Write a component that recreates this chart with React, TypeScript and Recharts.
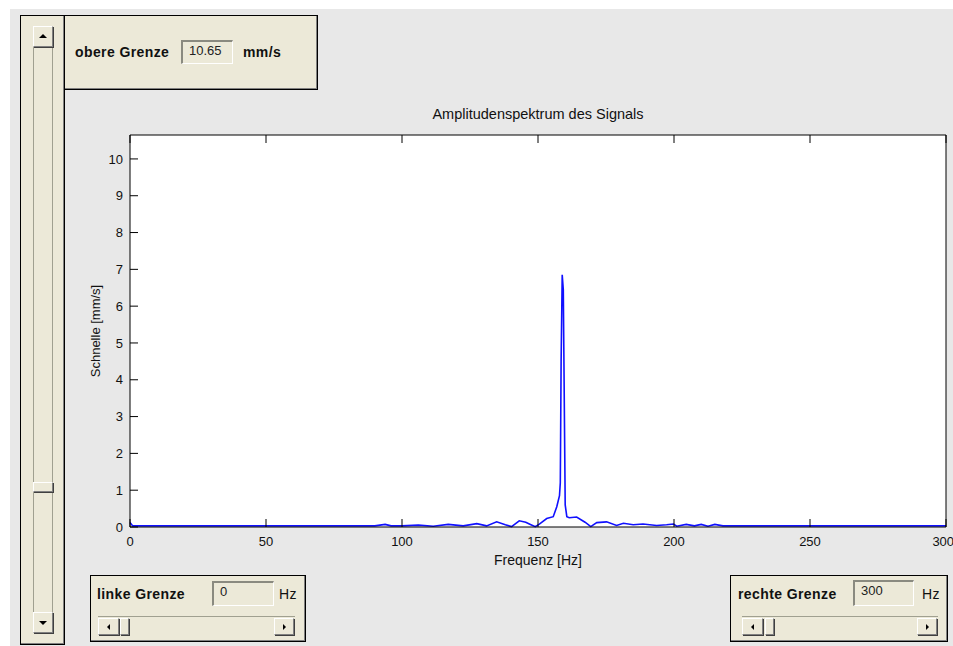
import React from 'react';
import { LineChart, Line, XAxis, YAxis, CartesianGrid } from 'recharts';

// spectrum (Hz / mm/s)
const FREQ = [
  0, 1, 20, 40, 60, 80, 90, 93.8, 96, 100, 106, 111.5, 117, 122.5, 127.5, 131.1,
  134.8, 138, 140.3, 143.1, 145.5, 147.2, 149, 150.5, 153.2, 155.6, 156.9, 157.9,
  158.2, 158.5, 158.9, 159.3, 159.6, 160.0, 160.6, 161.5, 164.2, 167.3, 169.4,
  171.6, 175.2, 178.9, 181.4, 185, 188.6, 193.6, 197.3, 199.8, 201, 204.5, 207.5,
  210, 212.5, 215, 218, 230, 260, 300,
];
const AMP = [
  0.12, 0.03, 0.03, 0.03, 0.03, 0.03, 0.03, 0.07, 0.03, 0.03, 0.05, 0.02, 0.07,
  0.03, 0.09, 0.03, 0.14, 0.06, 0.01, 0.17, 0.13, 0.07, 0.01, 0.08, 0.23, 0.28,
  0.55, 0.85, 1.2, 4.5, 6.85, 6.45, 3.95, 0.6, 0.28, 0.25, 0.27, 0.13, 0.01,
  0.12, 0.14, 0.04, 0.1, 0.06, 0.08, 0.04, 0.06, 0.08, 0.02, 0.07, 0.03, 0.07,
  0.02, 0.07, 0.03, 0.03, 0.03, 0.03,
];
const X_TICKS = [0, 50, 100, 150, 200, 250, 300];
const Y_TICKS = [0, 1, 2, 3, 4, 5, 6, 7, 8, 9, 10];
const Y_MAX = 10.65;

const data = FREQ.map((f, i) => ({ f, a: AMP[i] }));

const BEIGE = '#ece9d8';
const FONT = '"Liberation Sans", Arial, sans-serif';

const box = (l: number, t: number, w: number, h: number): React.CSSProperties => ({
  position: 'absolute',
  left: l,
  top: t,
  width: w,
  height: h,
  boxSizing: 'border-box',
});

function Panel({ l, t, w, h, children }: any) {
  return (
    <div style={{ ...box(l, t, w, h), background: BEIGE, border: '1px solid #000', boxShadow: 'inset -1px -1px 0 #808080' }}>
      {children}
    </div>
  );
}

function Edit({ l, t, w, h, value }: any) {
  return (
    <div
      style={{
        ...box(l, t, w, h),
        background: BEIGE,
        borderTop: '2px solid #8a8a80',
        borderLeft: '2px solid #8a8a80',
        borderRight: '1px solid #fff',
        borderBottom: '1px solid #fff',
        fontSize: 13,
        paddingLeft: 6,
        lineHeight: '17px',
        color: '#222',
      }}
    >
      {value}
    </div>
  );
}

function Btn({ l, t, w, h, dir }: any) {
  const s = 3;
  const tri: React.CSSProperties = { position: 'absolute', width: 0, height: 0, left: '50%', top: '50%' };
  if (dir === 'up') Object.assign(tri, { borderLeft: `${s + 1}px solid transparent`, borderRight: `${s + 1}px solid transparent`, borderBottom: `${s + 1}px solid #000`, marginLeft: -s - 1, marginTop: -3 });
  if (dir === 'down') Object.assign(tri, { borderLeft: `${s + 1}px solid transparent`, borderRight: `${s + 1}px solid transparent`, borderTop: `${s + 1}px solid #000`, marginLeft: -s - 1, marginTop: -2 });
  if (dir === 'left') Object.assign(tri, { borderTop: `${s}px solid transparent`, borderBottom: `${s}px solid transparent`, borderRight: `${s}px solid #000`, marginLeft: -2, marginTop: -s });
  if (dir === 'right') Object.assign(tri, { borderTop: `${s}px solid transparent`, borderBottom: `${s}px solid transparent`, borderLeft: `${s}px solid #000`, marginLeft: -1, marginTop: -s });
  return (
    <div style={{ ...box(l, t, w, h), background: BEIGE, borderTop: '1px solid #fff', borderLeft: '1px solid #fff', borderRight: '1px solid #808080', borderBottom: '1px solid #808080', boxShadow: '1px 1px 0 #404040' }}>
      {dir ? <div style={tri} /> : null}
    </div>
  );
}

function HSlider({ l, t, w, thumb }: any) {
  return (
    <div style={{ ...box(l, t, w, 19), background: BEIGE, borderTop: '1px solid #a0a090' }}>
      <Btn l={0} t={1} w={21} h={17} dir="left" />
      <Btn l={thumb} t={1} w={9} h={17} />
      <Btn l={w - 21} t={1} w={20} h={17} dir="right" />
    </div>
  );
}

const lbl: React.CSSProperties = { position: 'absolute', fontFamily: FONT, fontWeight: 'bold', fontSize: 14, color: '#111', letterSpacing: 0.4 };

export default function App() {
  return (
    <div style={{ position: 'fixed', left: 0, top: 0, width: 953, height: 646, overflow: 'hidden', background: '#fff', fontFamily: FONT }}>
      <div style={{ ...box(10, 9, 943, 637), background: '#e8e8e8' }} />
      <LineChart
        width={953}
        height={646}
        data={data}
        margin={{ top: 134, right: 6, bottom: 79, left: 80 }}
        style={{ position: 'absolute', left: 0, top: 0 }}
      >
        <CartesianGrid horizontal={false} vertical={false} fill="#fff" />
        <XAxis
          xAxisId="b"
          dataKey="f"
          type="number"
          domain={[0, 300]}
          ticks={X_TICKS}
          height={40}
          tickSize={-8}
          tickMargin={18}
          stroke="#000"
          tick={{ fill: '#111', fontSize: 13, fontFamily: FONT }}
          label={{ value: 'Frequenz [Hz]', position: 'insideBottom', offset: 2, fill: '#111', fontSize: 14, fontFamily: FONT }}
        />
        <XAxis
          xAxisId="t"
          orientation="top"
          dataKey="f"
          type="number"
          domain={[0, 300]}
          ticks={X_TICKS}
          height={1}
          tickSize={-8}
          stroke="#000"
          tickFormatter={() => ''}
        />
        <YAxis
          yAxisId="l"
          type="number"
          domain={[0, Y_MAX]}
          ticks={Y_TICKS}
          width={50}
          tickSize={-8}
          tickMargin={15}
          stroke="#000"
          tick={{ fill: '#111', fontSize: 13, fontFamily: FONT }}
          label={{ value: 'Schnelle [mm/s]', angle: -90, position: 'insideLeft', offset: 15, fill: '#111', fontSize: 13, fontFamily: FONT, style: { textAnchor: 'middle' } }}
        />
        <YAxis
          yAxisId="r"
          orientation="right"
          type="number"
          domain={[0, Y_MAX]}
          ticks={Y_TICKS}
          width={1}
          tickSize={-8}
          stroke="#000"
          tickFormatter={() => ''}
        />
        <Line
          xAxisId="b"
          yAxisId="l"
          dataKey="a"
          type="linear"
          stroke="#1010ff"
          strokeWidth={1.6}
          dot={false}
          isAnimationActive={false}
        />
      </LineChart>

      <div style={{ position: 'absolute', left: 130, width: 816, top: 106, textAlign: 'center', fontSize: 14.5, color: '#111' }}>
        Amplitudenspektrum des Signals
      </div>

      {/* left vertical slider */}
      <Panel l={20} t={15} w={45} h={630}>
        <div style={{ ...box(12, 10, 20, 607), borderLeft: '1px solid #a0a090', borderRight: '1px solid #a0a090' }} />
        <Btn l={12} t={10} w={20} h={21} dir="up" />
        <Btn l={12} t={466} w={20} h={10} />
        <Btn l={12} t={596} w={20} h={21} dir="down" />
      </Panel>

      {/* top panel */}
      <Panel l={64} t={15} w={254} h={75}>
        <div style={{ ...lbl, left: 10, top: 28 }}>obere Grenze</div>
        <Edit l={116} t={24} w={52} h={24} value="10.65" />
        <div style={{ ...lbl, left: 178, top: 28 }}>mm/s</div>
      </Panel>

      {/* bottom left */}
      <Panel l={90} t={575} w={216} h={67}>
        <div style={{ ...lbl, left: 6, top: 10 }}>linke Grenze</div>
        <Edit l={121} t={5} w={62} h={25} value="0" />
        <div style={{ ...lbl, fontWeight: 'normal', left: 188, top: 10 }}>Hz</div>
        <HSlider l={7} t={40} w={197} thumb={22} />
      </Panel>

      {/* bottom right */}
      <Panel l={730} t={575} w={218} h={67}>
        <div style={{ ...lbl, left: 7, top: 10 }}>rechte Grenze</div>
        <Edit l={122} t={4} w={61} h={26} value="300" />
        <div style={{ ...lbl, fontWeight: 'normal', left: 191, top: 10 }}>Hz</div>
        <HSlider l={11} t={40} w={196} thumb={23} />
      </Panel>
    </div>
  );
}
